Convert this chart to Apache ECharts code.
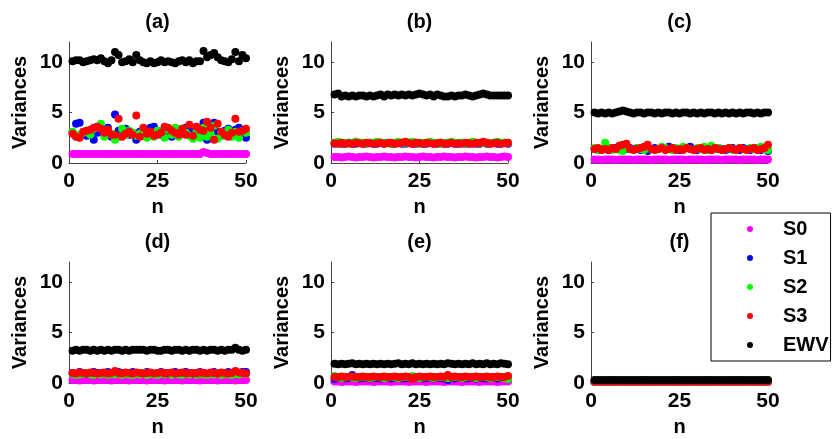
<!DOCTYPE html>
<html>
<head>
<meta charset="utf-8">
<script src="https://cdn.jsdelivr.net/npm/echarts@6/dist/echarts.min.js"></script>
<style>
  html, body { margin: 0; padding: 0; background: #ffffff; }
  #chart { width: 832px; height: 439px; }
</style>
</head>
<body>
<div id="chart"></div>
<script>
// sample index
const n = [1,2,3,4,5,6,7,8,9,10,11,12,13,14,15,16,17,18,19,20,21,22,23,24,25,
           26,27,28,29,30,31,32,33,34,35,36,37,38,39,40,41,42,43,44,45,46,47,48,49,50];

const seriesNames = ['S0', 'S1', 'S2', 'S3', 'EWV'];
const panelTitles = ['(a)', '(b)', '(c)', '(d)', '(e)', '(f)'];
const xTicks = [0, 25, 50];
const yTicks = [0, 5, 10];

// (a)
const s0A = [0.9,0.9,0.9,0.9,0.9,0.9,0.9,0.9,0.9,0.9,0.9,0.9,0.9,0.9,0.9,0.9,0.9,0.9,0.9,0.9,0.9,0.9,0.9,0.9,0.9,
             0.9,0.9,0.9,0.9,0.9,0.9,0.9,0.9,0.9,0.9,0.9,0.9,1.1,1.0,0.9,0.9,0.9,0.9,0.9,0.9,0.9,0.9,0.9,0.9,0.9];
const s1A = [3.0,3.9,4.0,2.9,2.7,3.1,2.3,3.0,3.3,2.8,3.5,2.6,4.8,3.2,2.9,3.4,2.8,3.0,2.3,3.1,2.7,3.3,3.5,3.6,3.2,
             2.8,3.4,3.1,2.6,3.0,3.3,2.9,3.5,3.2,2.6,3.4,3.0,4.0,2.3,3.6,4.0,3.1,2.7,3.2,3.4,2.9,3.3,3.5,3.0,2.5];
const s2A = [3.1,2.6,2.8,3.0,3.2,2.8,3.4,3.6,3.9,2.6,3.3,2.9,2.3,2.6,3.4,2.8,3.2,3.0,2.7,2.9,3.3,2.5,2.8,2.6,3.2,
             3.0,2.5,3.3,2.8,3.5,2.6,3.4,3.0,2.7,2.4,3.1,2.5,3.5,2.6,2.9,3.7,2.4,3.0,2.7,3.3,2.6,3.1,2.5,3.2,3.0];
const s3A = [2.9,2.6,2.5,3.1,3.2,3.3,3.5,3.6,3.4,3.0,3.3,2.8,2.8,4.4,2.6,2.9,3.1,2.8,4.7,2.6,3.5,2.9,3.1,2.7,2.8,
             3.0,3.6,3.5,3.2,3.0,2.8,3.4,2.8,3.8,2.7,3.6,3.3,3.2,4.1,3.5,2.3,3.9,3.1,2.8,2.6,3.0,4.4,3.1,3.2,3.4];
const ewvA = [10.1,10.2,10.2,10.0,10.1,10.2,10.3,10.2,10.4,10.1,9.9,10.2,11.0,10.7,10.0,10.1,10.3,10.0,10.7,10.2,10.0,9.9,10.1,9.9,10.0,
              10.2,10.0,10.1,10.0,9.9,10.1,10.2,10.0,10.2,9.9,10.1,10.1,11.1,10.5,10.7,10.9,10.5,10.2,10.1,10.0,10.3,11.0,10.1,10.7,10.4];

// (b)
const s0B = [0.6,0.6,0.55,0.6,0.65,0.6,0.55,0.6,0.6,0.65,0.6,0.55,0.6,0.6,0.65,0.6,0.6,0.55,0.6,0.6,0.65,0.6,0.6,0.55,0.6,
             0.65,0.6,0.6,0.55,0.6,0.6,0.65,0.6,0.6,0.55,0.6,0.6,0.65,0.6,0.6,0.55,0.6,0.6,0.65,0.6,0.6,0.55,0.6,0.65,0.6];
const s1B = [1.9,2.0,1.9,1.9,2.0,1.9,1.9,2.0,1.9,1.9,2.0,1.9,1.9,2.0,1.9,2.0,1.9,1.9,2.0,1.9,1.9,2.0,1.9,1.9,2.0,
             1.9,1.9,2.0,1.9,1.9,2.0,1.9,1.9,2.0,1.9,1.9,2.0,1.9,1.9,2.0,1.9,1.9,2.0,1.9,1.9,2.0,1.9,1.9,2.0,1.9];
const s2B = [2.0,2.1,2.0,2.0,1.9,2.0,2.1,2.0,2.0,1.9,2.0,2.0,2.1,2.0,2.0,2.0,1.9,2.0,2.1,2.0,2.0,2.0,2.1,2.0,1.9,
             2.0,2.0,2.1,2.0,2.0,1.9,2.0,2.0,2.1,2.0,2.0,2.0,1.9,2.0,2.1,2.0,2.0,2.0,2.0,1.9,2.0,2.1,2.0,2.0,2.0];
const s3B = [1.95,1.9,2.0,1.9,1.95,1.9,2.0,1.95,1.9,2.0,1.95,1.9,1.95,2.0,1.9,1.95,2.0,1.9,1.95,2.0,2.1,1.95,1.9,2.0,1.95,
             1.9,2.0,1.95,1.9,1.95,2.0,1.9,1.95,2.0,1.9,1.95,1.9,2.0,1.95,1.9,2.0,1.95,2.1,2.0,1.9,1.95,2.0,1.9,1.95,2.0];
const ewvB = [6.8,6.9,6.6,6.7,6.6,6.7,6.6,6.7,6.7,6.6,6.7,6.6,6.7,6.8,6.6,6.8,6.7,6.8,6.7,6.8,6.7,6.8,6.7,6.8,6.9,
              6.8,6.7,6.8,6.6,6.8,6.7,6.6,6.6,6.7,6.6,6.7,6.7,6.8,6.7,6.6,6.7,6.8,6.9,6.8,6.7,6.7,6.7,6.7,6.7,6.7];

// (c)
const s0C = [0.35,0.35,0.3,0.35,0.35,0.35,0.3,0.35,0.35,0.35,0.35,0.3,0.35,0.35,0.35,0.35,0.3,0.35,0.35,0.35,0.35,0.3,0.35,0.35,0.35,
             0.35,0.3,0.35,0.35,0.35,0.35,0.3,0.35,0.35,0.35,0.35,0.3,0.35,0.35,0.35,0.35,0.3,0.35,0.35,0.35,0.35,0.3,0.35,0.35,0.35];
const s1C = [1.4,1.3,1.4,1.5,1.3,1.4,1.5,1.4,1.3,1.4,1.5,1.4,1.5,1.3,1.4,1.2,1.4,1.5,1.4,1.5,1.4,1.6,1.5,1.4,1.3,
             1.4,1.5,1.6,1.4,1.3,1.4,1.5,1.4,1.3,1.4,1.5,1.4,1.3,1.4,1.5,1.4,1.3,1.5,1.4,1.3,1.4,1.5,1.3,1.4,1.2];
const s2C = [1.5,1.3,1.4,2.0,1.5,1.3,1.4,1.3,1.2,1.5,1.4,1.3,1.5,1.4,1.3,1.5,1.4,1.3,1.4,1.6,1.5,1.4,1.3,1.5,1.4,
             1.6,1.5,1.4,1.3,1.5,1.4,1.6,1.3,1.7,1.4,1.5,1.3,1.4,1.5,1.3,1.4,1.5,1.4,1.3,1.5,1.4,1.5,1.6,1.4,1.3];
const s3C = [1.4,1.5,1.3,1.4,1.3,1.5,1.4,1.7,1.8,1.9,1.4,1.3,1.4,1.5,1.6,1.8,1.4,1.3,1.4,1.5,1.3,1.4,1.5,1.3,1.4,
             1.3,1.5,1.4,1.3,1.4,1.5,1.3,1.4,1.3,1.5,1.4,1.3,1.4,1.5,1.4,1.3,1.5,1.4,1.3,1.4,1.5,1.3,1.4,1.5,1.8];
const ewvC = [5.0,4.9,5.0,4.9,5.0,4.9,5.0,5.1,5.2,5.1,5.0,4.9,5.0,5.0,4.9,5.0,5.0,4.9,5.0,4.9,5.0,5.0,4.9,5.0,4.9,
              5.0,5.0,4.9,5.0,4.9,5.0,4.9,5.0,5.0,4.9,5.0,4.9,5.0,4.9,5.0,4.9,5.0,4.9,5.0,5.0,4.9,5.0,4.9,5.0,5.0];

// (d)
const s0D = [0.3,0.3,0.25,0.3,0.3,0.3,0.25,0.3,0.3,0.3,0.3,0.25,0.3,0.3,0.3,0.3,0.25,0.3,0.3,0.3,0.3,0.25,0.3,0.3,0.3,
             0.3,0.25,0.3,0.3,0.3,0.3,0.25,0.3,0.3,0.3,0.3,0.25,0.3,0.3,0.3,0.3,0.25,0.3,0.3,0.3,0.3,0.25,0.3,0.3,0.3];
const s1D = [1.0,0.9,1.1,1.0,0.9,1.0,1.1,1.0,0.9,1.0,1.1,0.9,1.0,1.1,1.0,0.9,1.0,1.1,1.0,0.9,1.0,1.1,1.0,0.9,1.0,
             1.1,1.0,0.9,1.0,1.1,1.0,0.9,1.1,1.0,0.9,1.0,1.1,1.0,0.9,1.0,1.1,1.0,0.9,1.0,1.1,1.0,0.9,1.0,1.1,1.1];
const s2D = [0.9,0.8,0.85,0.9,1.0,0.85,0.8,0.9,0.85,1.0,0.8,0.9,0.85,1.0,0.8,0.9,0.85,0.8,0.9,0.85,1.0,0.8,0.9,0.85,0.8,
             0.9,0.85,1.0,0.8,0.9,0.85,0.8,0.9,0.85,1.0,0.8,0.9,0.85,0.8,0.9,0.85,1.0,0.8,0.9,0.85,0.8,0.9,0.85,1.0,0.9];
const s3D = [1.0,0.95,1.05,1.0,0.95,1.05,1.0,0.95,1.0,1.05,0.95,1.0,1.2,1.0,0.95,1.05,1.0,0.95,1.05,1.0,0.95,1.0,1.05,0.95,1.0,
             1.05,0.95,1.0,1.05,0.95,1.0,1.05,0.95,1.0,1.0,0.95,1.05,1.0,0.95,1.05,1.0,0.95,1.05,1.0,0.95,1.0,1.2,1.05,1.0,0.95];
const ewvD = [3.2,3.3,3.2,3.3,3.3,3.2,3.3,3.2,3.3,3.2,3.3,3.2,3.3,3.3,3.2,3.3,3.2,3.3,3.3,3.3,3.3,3.2,3.3,3.3,3.2,
              3.2,3.3,3.3,3.2,3.3,3.3,3.2,3.3,3.2,3.3,3.3,3.2,3.3,3.2,3.3,3.3,3.2,3.3,3.2,3.3,3.3,3.5,3.3,3.2,3.3];

// (e)
const s0E = [0.15,0.15,0.1,0.15,0.15,0.15,0.1,0.15,0.15,0.15,0.15,0.1,0.15,0.15,0.15,0.15,0.1,0.15,0.15,0.15,0.15,0.1,0.15,0.15,0.15,
             0.15,0.1,0.15,0.15,0.15,0.15,0.1,0.15,0.15,0.15,0.15,0.1,0.15,0.15,0.15,0.15,0.1,0.15,0.15,0.15,0.15,0.1,0.15,0.15,0.15];
const s1E = [0.4,0.5,0.5,0.45,0.5,0.8,0.5,0.45,0.5,0.5,0.45,0.5,0.5,0.45,0.5,0.5,0.45,0.5,0.5,0.45,0.5,0.5,0.45,0.5,0.5,
             0.45,0.5,0.5,0.45,0.5,0.5,0.45,0.3,0.5,0.45,0.5,0.5,0.45,0.5,0.5,0.45,0.5,0.5,0.45,0.5,0.5,0.45,0.5,0.5,0.45];
const s2E = [0.7,0.55,0.5,0.55,0.6,0.55,0.5,0.55,0.6,0.55,0.5,0.55,0.6,0.55,0.5,0.55,0.6,0.55,0.5,0.55,0.6,0.55,0.7,0.55,0.5,
             0.55,0.6,0.55,0.5,0.55,0.6,0.55,0.5,0.55,0.6,0.55,0.5,0.55,0.6,0.55,0.5,0.55,0.6,0.55,0.5,0.55,0.6,0.55,0.5,0.4];
const s3E = [0.6,0.6,0.65,0.6,0.6,0.65,0.6,0.6,0.65,0.6,0.6,0.65,0.6,0.6,0.65,0.6,0.6,0.65,0.6,0.6,0.65,0.6,0.4,0.6,0.65,
             0.6,0.6,0.65,0.6,0.6,0.65,0.6,0.8,0.6,0.65,0.6,0.6,0.65,0.6,0.6,0.65,0.6,0.6,0.65,0.6,0.6,0.65,0.6,0.6,0.7];
const ewvE = [1.9,1.85,1.9,1.85,1.9,1.95,1.85,1.9,1.85,1.9,1.85,1.9,1.85,1.9,1.85,1.9,1.85,1.9,1.95,1.85,1.9,1.85,1.95,1.85,1.9,
              1.85,1.9,1.85,1.9,1.85,1.9,1.85,1.95,1.9,1.85,1.9,1.85,1.9,1.85,1.95,1.85,1.9,1.85,1.95,1.85,1.9,1.85,1.95,1.9,1.85];

// (f)
const s0F = [0.1,0.1,0.1,0.1,0.1,0.1,0.1,0.1,0.1,0.1,0.1,0.1,0.1,0.1,0.1,0.1,0.1,0.1,0.1,0.1,0.1,0.1,0.1,0.1,0.1,
             0.1,0.1,0.1,0.1,0.1,0.1,0.1,0.1,0.1,0.1,0.1,0.1,0.1,0.1,0.1,0.1,0.1,0.1,0.1,0.1,0.1,0.1,0.1,0.1,0.1];
const s1F = [0.15,0.15,0.15,0.15,0.15,0.15,0.15,0.15,0.15,0.15,0.15,0.15,0.15,0.15,0.15,0.15,0.15,0.15,0.15,0.15,0.15,0.15,0.15,0.15,0.15,
             0.15,0.15,0.15,0.15,0.15,0.15,0.15,0.15,0.15,0.15,0.15,0.15,0.15,0.15,0.15,0.15,0.15,0.15,0.15,0.15,0.15,0.15,0.15,0.15,0.15];
const s2F = [0.15,0.15,0.15,0.15,0.15,0.15,0.15,0.15,0.15,0.15,0.15,0.15,0.15,0.15,0.15,0.15,0.15,0.15,0.15,0.15,0.15,0.15,0.15,0.15,0.15,
             0.15,0.15,0.15,0.15,0.15,0.15,0.15,0.15,0.15,0.15,0.15,0.15,0.15,0.15,0.15,0.15,0.15,0.15,0.15,0.15,0.15,0.15,0.15,0.15,0.15];
const s3F = [0.15,0.15,0.15,0.15,0.15,0.15,0.15,0.15,0.15,0.15,0.15,0.15,0.15,0.15,0.15,0.15,0.15,0.15,0.15,0.15,0.15,0.15,0.15,0.15,0.15,
             0.15,0.15,0.15,0.15,0.15,0.15,0.15,0.15,0.15,0.15,0.15,0.15,0.15,0.15,0.15,0.15,0.15,0.15,0.15,0.15,0.15,0.15,0.15,0.15,0.15];
const ewvF = [0.3,0.3,0.3,0.3,0.3,0.3,0.3,0.3,0.3,0.3,0.3,0.3,0.3,0.3,0.3,0.3,0.3,0.3,0.3,0.3,0.3,0.3,0.3,0.3,0.3,
              0.3,0.3,0.3,0.3,0.3,0.3,0.3,0.3,0.3,0.3,0.3,0.3,0.3,0.3,0.3,0.3,0.3,0.3,0.3,0.3,0.3,0.3,0.3,0.3,0.3];

const panelData = [
  [s0A, s1A, s2A, s3A, ewvA],
  [s0B, s1B, s2B, s3B, ewvB],
  [s0C, s1C, s2C, s3C, ewvC],
  [s0D, s1D, s2D, s3D, ewvD],
  [s0E, s1E, s2E, s3E, ewvE],
  [s0F, s1F, s2F, s3F, ewvF]
];

const colors = ['#ff00ff', '#0000ff', '#00ff00', '#ff0000', '#000000'];
const font = "'Liberation Sans', Arial, sans-serif";

const lefts = [69, 331, 591];
const tops = [42, 262];
const gw = 177, gh = 121;

const grids = [], xAxes = [], yAxes = [], titles = [], series = [];

for (let p = 0; p < 6; p++) {
  const left = lefts[p % 3];
  const top = tops[Math.floor(p / 3)];
  grids.push({ left: left, top: top, width: gw, height: gh, containLabel: false });
  titles.push({
    text: panelTitles[p],
    left: left + gw / 2,
    top: top - 30,
    textAlign: 'center',
    padding: 0,
    textStyle: { fontFamily: font, fontWeight: 'bold', fontSize: 20, color: '#000' }
  });
  xAxes.push({
    gridIndex: p, type: 'value', min: 0, max: 50, interval: 25,
    name: 'n', nameLocation: 'middle', nameGap: 34,
    nameTextStyle: { fontFamily: font, fontWeight: 'bold', fontSize: 20, color: '#000' },
    axisLine: { show: true, onZero: false, lineStyle: { color: '#444', width: 1 } },
    axisTick: { show: true, inside: true, length: 3, customValues: xTicks, lineStyle: { color: '#444' } },
    axisLabel: { fontFamily: font, fontWeight: 'bold', fontSize: 21, color: '#000', margin: 8, customValues: xTicks },
    splitLine: { show: false }
  });
  yAxes.push({
    gridIndex: p, type: 'value', min: 0, max: 12, interval: 5,
    name: 'Variances', nameLocation: 'middle', nameGap: 39,
    nameTextStyle: { fontFamily: font, fontWeight: 'bold', fontSize: 20, color: '#000' },
    axisLine: { show: true, lineStyle: { color: '#444', width: 1 } },
    axisTick: { show: true, inside: true, length: 3, customValues: yTicks, lineStyle: { color: '#444' } },
    axisLabel: { fontFamily: font, fontWeight: 'bold', fontSize: 21, color: '#000', margin: 6, customValues: yTicks },
    splitLine: { show: false }
  });
  for (let s = 0; s < 5; s++) {
    series.push({
      name: seriesNames[s],
      type: 'scatter',
      xAxisIndex: p, yAxisIndex: p,
      symbol: 'circle', symbolSize: 8,
      itemStyle: { color: colors[s], opacity: 1 },
      data: n.map((x, i) => [x, panelData[p][s][i]]),
      animation: false
    });
  }
}

const chart = echarts.init(document.getElementById('chart'), null, { renderer: 'canvas' });
chart.setOption({
  backgroundColor: '#ffffff',
  animation: false,
  color: colors,
  title: titles,
  grid: grids,
  xAxis: xAxes,
  yAxis: yAxes,
  legend: {
    data: seriesNames,
    orient: 'vertical',
    left: 711, top: 213,
    padding: [6, 2, 6, 36],
    itemGap: 9,
    itemWidth: 6, itemHeight: 6,
    icon: 'circle',
    borderColor: '#000', borderWidth: 1,
    backgroundColor: '#fff',
    textStyle: { fontFamily: font, fontWeight: 'bold', fontSize: 20, color: '#000', lineHeight: 20, padding: [0, 0, 0, 25] }
  },
  series: series
});
</script>
</body>
</html>
